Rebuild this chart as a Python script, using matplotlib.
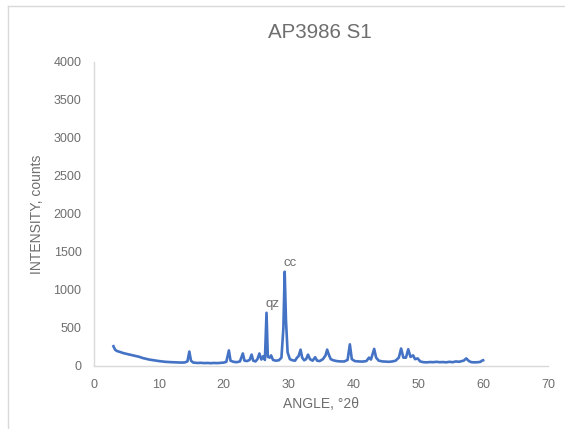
import matplotlib
matplotlib.use("Agg")
import matplotlib.pyplot as plt
from matplotlib.lines import Line2D

plt.rcParams["font.family"] = ["Liberation Sans", "DejaVu Sans"]

angle = [3.0, 3.1, 3.3, 3.6, 4.0, 4.5, 5.0, 5.5, 6.0, 6.5, 7.0, 7.5, 8.0, 8.5, 9.0, 9.5,
         10.0, 10.5, 11.0, 11.5, 12.0, 12.5, 13.0, 13.5, 14.0, 14.4, 14.7, 14.95, 15.3, 16.0,
         16.5, 17.0, 17.5, 18.0, 18.5, 19.0, 19.5, 20.0, 20.4, 20.8, 21.05, 21.5, 22.0, 22.5,
         22.95, 23.2, 23.6, 24.0, 24.3, 24.55, 24.9, 25.2, 25.5, 25.8, 26.1, 26.35, 26.6, 26.8,
         27.1, 27.3, 27.6, 28.0, 28.5, 28.9, 29.2, 29.4, 29.6, 29.85, 30.2, 30.6, 31.0, 31.3,
         31.55, 31.85, 32.1, 32.4, 32.7, 33.0, 33.3, 33.7, 34.1, 34.4, 34.8, 35.3, 35.7, 35.95,
         36.2, 36.5, 36.9, 37.4, 38.0, 38.6, 39.1, 39.45, 39.75, 40.2, 40.8, 41.4, 42.0, 42.4,
         42.7, 43.2, 43.5, 43.9, 44.5, 45.0, 45.5, 46.0, 46.5, 47.0, 47.35, 47.7, 48.1, 48.45,
         48.8, 49.2, 49.5, 49.9, 50.3, 50.8, 51.3, 51.8, 52.3, 52.8, 53.3, 53.8, 54.3, 54.8,
         55.3, 55.8, 56.3, 56.7, 57.0, 57.4, 57.8, 58.2, 58.7, 59.2, 59.6, 59.8, 60.0]
intensity = [260, 240, 210, 195, 185, 170, 160, 150, 140, 130, 120, 105, 95, 85, 78, 70,
             65, 60, 55, 52, 50, 48, 47, 45, 47, 60, 190, 70, 45, 40,
             42, 38, 40, 37, 40, 38, 42, 45, 55, 205, 70, 55, 50, 60,
             165, 70, 65, 80, 150, 70, 60, 90, 165, 85, 130, 80, 700, 120,
             110, 140, 80, 70, 75, 110, 500, 1240, 600, 180, 90, 75, 70, 110,
             130, 215, 110, 75, 90, 150, 90, 70, 115, 70, 65, 90, 140, 215,
             150, 90, 75, 65, 60, 60, 80, 285, 90, 65, 60, 58, 65, 110,
             85, 225, 110, 70, 60, 58, 55, 60, 70, 110, 230, 110, 110, 220,
             120, 140, 90, 100, 60, 50, 48, 52, 50, 55, 50, 52, 48, 55,
             50, 60, 55, 65, 70, 100, 65, 50, 48, 50, 55, 70, 75]

label_text = ["qz", "cc"]
label_angle = [26.6, 29.4]
label_value = [700, 1240]

x_ticks = [0, 10, 20, 30, 40, 50, 60, 70]
y_ticks = [0, 500, 1000, 1500, 2000, 2500, 3000, 3500, 4000]

text_color = "#6E6E6E"
line_color = "#4472C4"
axis_color = "#D9D9D9"

fig = plt.figure(figsize=(5.65, 4.29), dpi=100)
fig.add_artist(Line2D([7.5 / 565, 7.5 / 565], [0, 1 - 5.5 / 429], transform=fig.transFigure,
                      color="#D9D9D9", linewidth=1.0))
fig.add_artist(Line2D([7.5 / 565, 1], [1 - 5.5 / 429, 1 - 5.5 / 429], transform=fig.transFigure,
                      color="#D9D9D9", linewidth=1.0))
ax = fig.add_axes([94 / 565, 1 - 366 / 429, (548 - 94) / 565, (366 - 62) / 429])
ax.plot(angle, intensity, color=line_color, linewidth=1.9, solid_joinstyle="round")

for t, a, v in zip(label_text, label_angle, label_value):
    ax.annotate(t, (a, v), xytext=(4, 2), textcoords="offset points", ha="center", va="bottom",
                fontsize=9.5, color=text_color)

ax.set_xlim(0, 70)
ax.set_ylim(0, 4000)
ax.set_xticks(x_ticks)
ax.set_yticks(y_ticks)
ax.tick_params(length=0, labelsize=9, labelcolor=text_color, pad=9)
for s in ["top", "right"]:
    ax.spines[s].set_visible(False)
for s in ["left", "bottom"]:
    ax.spines[s].set_color(axis_color)
    ax.spines[s].set_linewidth(1.0)

ax.set_xlabel("ANGLE, °2θ", fontsize=10, color=text_color, labelpad=5)
ax.set_ylabel("INTENSITY, counts", fontsize=10, color=text_color, labelpad=7)
fig.text(320 / 565, 1 - 33 / 429, "AP3986 S1", fontsize=14.8, color=text_color, ha="center", va="center")

fig.savefig("out.png", dpi=100)
